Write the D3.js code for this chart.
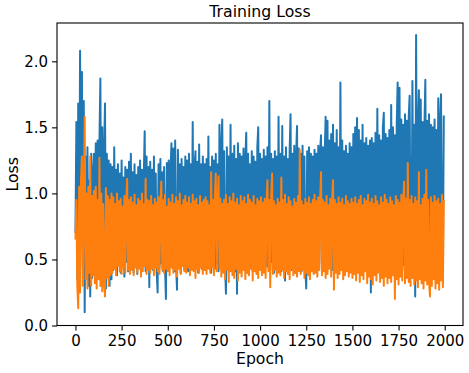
<!DOCTYPE html>
<html>
<head>
<meta charset="utf-8">
<script src="https://cdn.jsdelivr.net/npm/d3@7"></script>
<style>
  body { margin: 0; background: #fff; }
  svg { display: block; }
  text { font-family: "DejaVu Sans", sans-serif; fill: #000; }
</style>
</head>
<body>
<svg width="469" height="373"></svg>
<script>
// one value every 5 epochs
var epochStep = 5;

var blueLoss = [
  0.70,1.54,0.35,1.68,0.52,2.08,0.60,1.92,0.45,1.70,0.10,1.28,0.40,1.35,0.30,1.10,0.22,1.30,0.36,1.15,
  1.30,0.40,1.38,0.35,1.40,0.45,1.40,1.87,0.30,1.50,0.38,1.30,1.68,0.28,1.30,0.40,1.25,0.30,1.22,0.35,
  1.20,0.42,1.35,0.45,1.18,0.38,1.22,0.50,1.15,0.40,1.25,0.44,1.12,0.37,1.20,0.48,1.18,0.41,1.24,0.46,
  1.30,0.45,1.16,0.40,1.22,0.48,1.14,0.39,1.20,0.44,1.25,0.42,1.18,0.50,1.12,1.47,0.41,1.28,0.43,1.20,
  0.29,1.24,0.46,1.18,0.42,1.28,0.48,1.15,0.40,0.25,1.22,0.44,1.26,0.47,1.16,0.41,1.20,0.45,0.20,1.23,
  0.43,1.25,0.48,1.18,1.38,0.44,1.34,0.41,1.40,0.46,0.27,1.33,0.45,1.22,0.40,1.26,0.47,1.20,0.42,1.28,
  0.45,1.25,0.41,1.30,0.48,1.22,0.44,1.54,0.42,1.20,1.32,0.46,1.24,0.40,1.37,0.47,1.22,0.43,1.28,0.45,
  1.22,0.42,1.26,0.48,1.43,0.44,1.20,0.40,1.28,0.46,1.25,0.43,1.30,0.47,1.22,0.41,1.52,0.45,1.35,1.56,
  0.44,1.32,0.48,0.24,1.35,0.42,1.28,0.46,1.52,0.43,1.30,0.47,1.36,0.41,1.26,0.24,1.38,0.45,1.30,0.42,
  1.28,0.46,1.34,0.43,1.25,1.46,0.40,1.30,0.47,1.22,0.44,1.32,0.41,1.28,0.48,1.24,0.42,1.35,1.50,0.45,
  1.30,0.43,1.26,0.47,1.33,0.41,1.28,0.45,1.35,0.44,1.70,0.42,1.30,0.48,1.26,0.40,1.32,0.46,1.28,0.43,
  1.58,0.45,1.30,0.41,1.51,0.46,1.28,0.34,1.35,0.44,1.26,0.47,1.32,1.60,0.42,1.30,0.45,1.36,0.40,1.28,
  1.51,0.44,1.34,0.48,1.30,0.41,1.36,0.45,1.28,0.43,0.28,1.32,0.47,1.35,0.42,1.30,0.46,1.28,0.44,1.33,
  0.45,1.30,0.42,1.36,0.47,1.32,1.44,0.43,1.35,0.46,1.30,1.58,0.41,1.55,0.44,1.40,0.47,1.45,0.42,1.52,
  0.44,1.38,0.46,1.48,0.42,1.35,0.45,1.84,0.43,1.40,0.47,1.32,0.41,1.36,0.46,1.30,0.44,1.38,0.42,1.35,
  0.46,1.45,0.43,1.50,0.47,1.57,0.42,1.48,0.45,1.40,0.44,1.52,0.41,1.38,0.46,1.42,0.43,1.36,0.47,1.40,
  0.25,1.42,0.45,1.38,0.43,1.46,0.47,1.64,0.42,1.44,0.46,1.40,0.44,1.50,1.61,0.41,1.45,0.47,1.42,0.43,
  1.48,0.45,1.67,0.42,1.50,0.46,1.44,0.43,1.52,1.84,0.44,1.80,0.47,1.56,0.42,1.52,0.46,1.60,0.43,1.55,
  0.45,1.58,1.74,0.43,0.47,1.85,0.44,1.52,0.22,2.20,0.46,1.50,1.78,0.42,1.71,0.45,1.54,0.43,1.50,1.86,
  0.44,1.55,0.47,1.60,0.42,1.52,0.46,1.50,0.43,1.56,0.45,1.48,0.41,1.72,0.46,1.54,1.75,0.44,0.47,1.59
];

var orangeLoss = [
  0.65,0.95,0.30,0.13,1.05,0.25,1.10,1.28,0.30,0.90,1.58,0.35,1.00,0.28,1.05,0.40,1.28,0.30,0.98,0.38,
  1.02,0.32,1.05,0.28,0.95,0.35,1.27,0.30,1.00,0.26,0.92,0.33,0.22,1.04,0.36,0.98,0.30,0.95,0.38,1.00,
  0.40,0.97,0.43,0.92,0.38,1.00,0.45,0.94,0.41,0.96,0.39,0.90,0.44,0.98,0.40,0.93,1.11,0.42,0.95,0.39,
  0.97,0.42,0.93,0.38,0.99,0.44,0.91,0.40,0.96,0.43,0.94,0.37,1.00,0.41,0.92,0.45,1.11,0.39,0.95,0.42,
  0.94,0.40,0.98,0.43,0.91,0.38,0.96,0.44,0.93,0.41,0.97,0.39,0.92,1.09,0.42,0.95,0.40,0.99,0.43,0.90,
  0.41,0.96,0.38,0.93,0.44,0.99,0.40,0.92,0.42,0.97,0.37,0.94,0.43,1.00,0.39,0.91,0.45,0.95,0.41,0.98,
  0.40,0.93,0.44,0.97,0.38,0.92,0.42,0.99,0.41,0.94,0.36,0.96,0.43,0.91,0.40,0.98,0.44,0.93,0.39,0.95,
  0.42,0.97,0.39,0.94,0.43,0.91,0.40,1.16,0.44,0.95,0.38,0.98,1.15,0.41,0.93,1.13,0.43,0.96,0.37,0.92,
  0.40,0.95,0.35,0.99,0.42,0.92,0.33,0.97,0.41,0.94,0.38,1.00,0.36,0.93,0.43,0.96,0.34,0.91,0.40,0.98,
  0.37,0.94,0.42,0.97,0.35,0.92,0.40,0.99,0.38,0.95,0.43,0.93,0.34,0.98,0.41,0.91,0.39,0.96,0.36,0.94,
  0.42,0.97,0.38,0.93,0.40,0.96,0.36,0.92,1.10,0.41,0.95,0.29,0.98,1.15,0.39,0.94,0.42,0.91,0.37,0.96,
  0.40,0.93,0.38,1.12,0.42,0.95,0.36,0.99,0.41,0.92,0.39,0.97,0.35,0.94,0.43,0.90,0.38,0.96,0.40,0.93,
  0.37,0.98,0.41,1.33,0.39,0.94,0.42,0.91,0.36,0.96,0.40,0.93,0.38,0.97,0.35,0.92,0.41,0.95,0.39,0.99,
  0.40,0.94,0.37,0.97,0.42,0.92,1.16,0.38,0.95,0.41,0.93,0.36,0.98,0.39,0.91,0.43,0.96,0.37,0.94,1.10,
  0.27,0.95,0.40,0.92,0.36,0.97,0.39,0.93,0.42,0.96,0.35,0.91,0.38,0.98,0.41,0.94,0.37,0.92,0.40,0.96,
  0.36,0.93,0.39,0.97,0.34,0.92,0.40,0.95,0.33,0.98,0.38,0.91,0.35,0.96,0.41,0.94,0.32,0.99,0.37,0.93,
  0.35,0.96,0.31,0.92,0.38,0.98,0.34,0.94,0.40,0.91,0.33,0.97,0.36,0.93,0.30,0.99,0.37,0.95,0.32,0.92,
  0.36,0.97,0.33,0.94,0.38,0.91,0.20,0.98,0.35,0.95,0.31,0.93,0.37,0.99,0.34,0.92,1.09,0.32,0.96,0.36,
  1.23,0.33,0.95,0.30,0.98,0.36,0.92,0.31,0.97,0.34,0.94,0.29,1.16,0.35,0.91,0.32,0.96,0.28,0.99,0.34,
  1.18,0.31,0.95,0.33,0.22,0.97,0.30,0.93,0.35,0.98,0.28,0.94,0.32,0.96,0.27,0.92,0.34,0.99,0.29,0.95
];

var xTicks = [0, 250, 500, 750, 1000, 1250, 1500, 1750, 2000];
var yTicks = [0.0, 0.5, 1.0, 1.5, 2.0];

var margin = { top: 23, right: 6, bottom: 47.5, left: 57 };
var width = 469 - margin.left - margin.right;
var height = 373 - margin.top - margin.bottom;

var svg = d3.select("svg");
var g = svg
  .append("g")
  .attr("transform", "translate(" + margin.left + "," + margin.top + ")");

var x = d3.scaleLinear().domain([-99.95, 2098.95]).range([0, width]);
var y = d3.scaleLinear().domain([0, 2.29]).range([height, 0]);

g.append("clipPath")
  .attr("id", "plot-clip")
  .append("rect")
  .attr("width", width)
  .attr("height", height);

var line = d3
  .line()
  .x(function (d, i) {
    return x(i * epochStep);
  })
  .y(function (d) {
    return y(d);
  });

var series = [
  { values: blueLoss, color: "#1f77b4" },
  { values: orangeLoss, color: "#ff7f0e" }
];

g.selectAll(".loss")
  .data(series)
  .enter()
  .append("path")
  .attr("class", "loss")
  .attr("clip-path", "url(#plot-clip)")
  .attr("fill", "none")
  .attr("stroke", function (d) {
    return d.color;
  })
  .attr("stroke-width", 2)
  .attr("stroke-linejoin", "round")
  .attr("d", function (d) {
    return line(d.values);
  });

var xAxis = g
  .append("g")
  .attr("transform", "translate(0," + height + ")")
  .call(
    d3
      .axisBottom(x)
      .tickValues(xTicks)
      .tickFormat(d3.format("d"))
      .tickSize(4.9)
      .tickPadding(4.9)
  );

var yAxis = g
  .append("g")
  .call(
    d3
      .axisLeft(y)
      .tickValues(yTicks)
      .tickFormat(d3.format(".1f"))
      .tickSize(4.9)
      .tickPadding(4)
  );

[xAxis, yAxis].forEach(function (a) {
  a.select(".domain").remove();
  a.selectAll(".tick line").attr("stroke", "#000").attr("stroke-width", 1.1);
  a.selectAll(".tick text")
    .style("font-size", "15px")
    .style("font-family", '"DejaVu Sans", sans-serif')
    .attr("fill", "#000");
});

// frame on top of the lines
g.append("rect")
  .attr("width", width)
  .attr("height", height)
  .attr("fill", "none")
  .attr("stroke", "#000")
  .attr("stroke-width", 1.1);

svg
  .append("text")
  .attr("x", margin.left + width / 2)
  .attr("y", 17)
  .attr("text-anchor", "middle")
  .style("font-size", "15.7px")
  .text("Training Loss");

svg
  .append("text")
  .attr("x", margin.left + width / 2)
  .attr("y", 364)
  .attr("text-anchor", "middle")
  .style("font-size", "15.7px")
  .text("Epoch");

svg
  .append("text")
  .attr("transform", "translate(18," + (margin.top + height / 2) + ") rotate(-90)")
  .attr("text-anchor", "middle")
  .style("font-size", "15.7px")
  .text("Loss");
</script>
</body>
</html>
